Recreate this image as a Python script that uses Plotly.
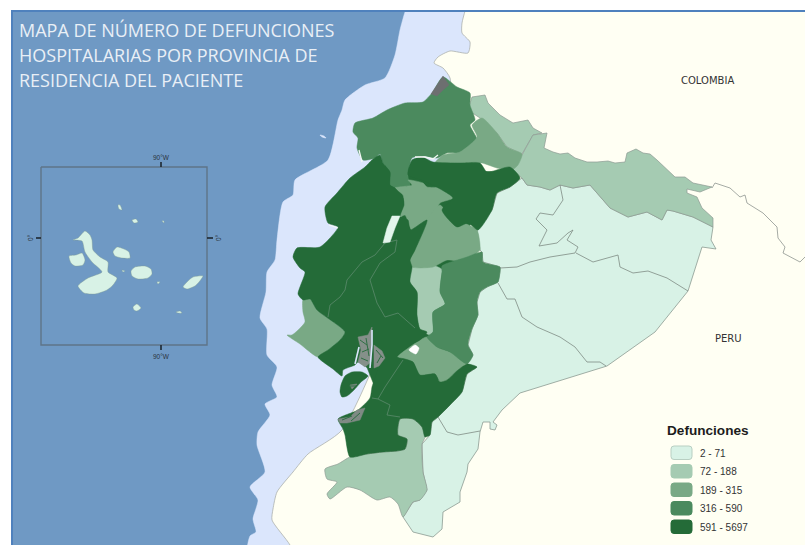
import plotly.graph_objects as go

# ---- legend classes -------------------------------------------------
CLASS_LABELS = ["2 - 71", "72 - 188", "189 - 315", "316 - 590", "591 - 5697"]
CLASS_COLORS = ["#d8f2e6", "#a5cbb2", "#79a985", "#4b8a5e", "#246b38"]
C_LOW, C_MID_LOW, C_MID, C_MID_HIGH, C_HIGH = CLASS_COLORS

TITLE_LINES = ["MAPA DE NÚMERO DE DEFUNCIONES",
               "HOSPITALARIAS POR PROVINCIA DE",
               "RESIDENCIA DEL PACIENTE"]

OCEAN = "#6f99c4"
SHELF = "#dbe6fc"
LAND = "#fffff3"

# ---- map outlines ---------------------------------------------------
OCEAN_AREA = [(0, 0), (805, 0), (805, 545), (0, 545)]
SHELF_AREA = [(410, 0), (405, 12), (400, 30), (395, 55), (385, 78), (365, 85), (345, 100), (342, 110), (338, 120),
              (328, 160), (295, 180), (293, 195), (283, 202), (277, 240), (275, 260), (267, 272), (266, 292),
              (260, 318), (267, 329), (267, 355), (277, 367), (272, 385), (277, 397), (265, 404), (270, 415),
              (258, 432), (257, 445), (265, 472), (250, 487), (258, 500), (253, 519), (256, 532), (250, 536),
              (248, 560), (480, 560), (480, 0)]
NEIGHBOURS = [(468, 0), (830, 0), (830, 570), (300, 570), (290, 545), (272, 520), (273, 509), (277, 492), (293, 472),
              (308, 454), (342, 430), (400, 300), (450, 120), (450, 78), (443, 68), (434, 63), (438, 57),
              (450, 51), (468, 53), (470, 42), (462, 33), (462, 23), (465, 11)]
PERU_COLOMBIA = [(712, 188), (715, 183), (730, 188), (740, 197), (745, 195), (747, 203), (763, 213), (777, 227),
                 (778, 238), (785, 247), (783, 253), (800, 262), (805, 257)]

NORTH_COAST = [(443, 77), (432, 93), (423, 102), (405, 103), (387, 110), (373, 118), (355, 123), (353, 132),
               (358, 138), (357, 148), (363, 160), (375, 158), (380, 154), (383, 163), (390, 172), (390, 185),
               (395, 188), (410, 185), (408, 177), (412, 158), (423, 156), (437, 158), (447, 153), (460, 153),
               (477, 140), (470, 125), (475, 120), (470, 105), (470, 93), (457, 87)]
NORTH_STRIP = [(472, 97), (485, 95), (488, 103), (500, 115), (513, 123), (528, 120), (533, 128), (542, 133),
               (533, 135), (522, 154), (507, 147), (497, 133), (483, 120), (468, 110)]
NORTH_EAST = [(533, 135), (547, 133), (544, 148), (553, 152), (560, 154), (568, 153), (575, 158), (587, 162),
              (597, 162), (608, 161), (615, 163), (625, 162), (627, 153), (636, 149), (643, 153), (650, 154),
              (657, 160), (667, 170), (675, 177), (685, 177), (693, 183), (712, 187), (700, 192), (687, 189),
              (687, 193), (697, 197), (702, 208), (713, 218), (713, 227), (693, 217), (673, 211), (667, 210),
              (662, 220), (647, 212), (628, 217), (610, 208), (590, 185), (573, 188), (560, 185), (550, 190),
              (540, 187), (527, 185), (522, 178), (512, 170), (522, 155)]
NORTH_HIGHLAND = [(435, 163), (443, 155), (460, 152), (477, 137), (472, 125), (482, 118), (497, 133), (507, 147),
                  (522, 154), (518, 165), (512, 170), (497, 168), (482, 163), (460, 163)]
NORTH_DARK = [(408, 175), (412, 160), (422, 157), (433, 162), (460, 163), (480, 163), (487, 172), (510, 167),
              (520, 178), (510, 187), (497, 193), (492, 210), (478, 230), (468, 223), (457, 227), (442, 210),
              (453, 198), (442, 190), (422, 180)]
CENTRE_A = [(395, 188), (412, 185), (408, 180), (423, 183), (427, 187), (450, 188), (453, 198), (440, 203),
            (433, 217), (413, 232), (405, 215), (400, 217), (404, 203), (403, 195)]
CENTRE_B = [(440, 205), (455, 225), (463, 223), (477, 230), (480, 250), (477, 253), (468, 262), (447, 260),
            (433, 267), (412, 267), (410, 260), (415, 250), (427, 220)]
CENTRE_STRIP = [(412, 267), (427, 263), (443, 270), (442, 272), (440, 292), (445, 304), (433, 312), (433, 332),
                (430, 335), (420, 329), (417, 315), (417, 292), (410, 282)]
CENTRE_EAST = [(442, 266), (467, 257), (482, 252), (483, 262), (500, 267), (500, 272), (498, 282), (487, 287),
               (480, 292), (477, 302), (478, 315), (472, 329), (468, 345), (473, 355), (467, 364), (450, 352),
               (437, 347), (427, 337), (433, 332), (433, 312), (445, 304), (440, 292), (442, 272)]
SOUTH_HIGHLAND = [(397, 357), (407, 349), (420, 340), (427, 337), (437, 347), (450, 352), (467, 362), (458, 370),
                  (447, 380), (440, 382), (435, 374), (420, 375), (413, 362), (403, 359)]
INTERIOR = [(385, 165), (435, 170), (505, 172), (470, 225), (462, 345), (440, 378), (400, 412), (378, 395),
            (340, 300), (340, 240)]
WEST_DARK = [(380, 155), (383, 163), (390, 172), (390, 185), (395, 188), (403, 198), (404, 205), (400, 217),
             (408, 220), (410, 230), (427, 220), (415, 250), (410, 260), (412, 267), (410, 282), (417, 292),
             (417, 315), (420, 329), (427, 332), (420, 340), (410, 345), (397, 357), (405, 359), (413, 362),
             (420, 375), (435, 374), (440, 382), (447, 380), (458, 370), (467, 364), (477, 367), (467, 374),
             (462, 392), (450, 405), (438, 417), (432, 422), (430, 435), (425, 437), (422, 427), (413, 419),
             (400, 419), (398, 435), (407, 439), (405, 449), (397, 451), (383, 452), (367, 454), (350, 457),
             (345, 435), (343, 429), (338, 419), (358, 410), (370, 398), (372, 387), (377, 370), (368, 368),
             (358, 362), (355, 365), (343, 370), (342, 376), (333, 369), (318, 357), (328, 350), (340, 340),
             (345, 332), (317, 310), (310, 299), (303, 300), (298, 294), (305, 272), (300, 268), (293, 257),
             (297, 248), (320, 247), (338, 227), (328, 223), (325, 207), (337, 193), (350, 178), (365, 167),
             (372, 160)]
SOUTH_WEST_COAST = [(310, 299), (317, 310), (345, 332), (340, 340), (328, 350), (318, 357), (300, 344), (287, 335),
                    (292, 335), (305, 322), (303, 312), (303, 300)]
PUNA = [(341, 385), (345, 376), (352, 372), (362, 372), (368, 376), (361, 382), (354, 390), (347, 396), (342, 397),
        (340, 392)]
SOUTH_LIGHT = [(400, 419), (413, 419), (422, 427), (425, 437), (422, 444), (423, 472), (427, 490), (420, 500),
               (413, 502), (403, 517), (398, 504), (390, 497), (377, 500), (360, 490), (347, 487), (330, 499),
               (327, 494), (337, 482), (327, 479), (325, 469), (338, 464), (350, 457), (367, 454), (383, 452),
               (397, 451), (405, 449), (407, 439), (398, 435)]
AMAZON = [(522, 178), (527, 185), (540, 187), (550, 190), (560, 185), (573, 188), (590, 185), (610, 208), (628, 217),
          (647, 212), (662, 220), (667, 210), (673, 211), (693, 217), (713, 227), (711, 240), (716, 249), (702, 247),
          (688, 291), (655, 332), (607, 366), (520, 393), (502, 410), (493, 422), (497, 425), (495, 430), (490, 429),
          (490, 422), (483, 422), (480, 432), (478, 449), (468, 464), (467, 472), (460, 492), (460, 502), (443, 512),
          (442, 529), (433, 537), (413, 532), (403, 517), (413, 502), (420, 500), (427, 490), (423, 472), (422, 444),
          (430, 435), (432, 422), (438, 417), (450, 405), (462, 392), (467, 374), (477, 367), (467, 364), (473, 355),
          (468, 345), (472, 329), (478, 315), (477, 302), (480, 292), (487, 287), (498, 282), (500, 272), (500, 267),
          (483, 262), (482, 252), (480, 250), (477, 230), (478, 230), (492, 210), (497, 193), (510, 187)]

AMAZON_LINE_1 = [(560, 185), (563, 200), (553, 215), (540, 213), (536, 219), (547, 230), (539, 246), (557, 243),
                 (568, 233), (573, 230), (567, 240), (578, 247), (575, 253), (550, 257), (530, 262), (517, 267),
                 (500, 268)]
AMAZON_LINE_2 = [(576, 253), (593, 262), (618, 255), (620, 267), (633, 273), (648, 271), (667, 278), (688, 291)]
AMAZON_LINE_3 = [(498, 283), (507, 299), (515, 299), (522, 317), (537, 327), (560, 337), (575, 347), (587, 362),
                 (600, 362), (606, 366)]
AMAZON_LINE_4 = [(438, 417), (447, 432), (458, 435), (480, 431)]
DARK_LINE_1 = [(397, 240), (395, 252), (380, 263), (370, 280), (377, 303), (385, 317), (398, 313), (415, 328)]
DARK_LINE_2 = [(397, 240), (385, 243), (375, 255), (362, 262), (347, 280), (345, 290), (340, 297), (330, 305), (328, 317)]
DARK_LINE_3 = [(403, 360), (393, 375), (385, 387), (378, 399), (390, 405), (387, 415), (400, 417)]
DARK_LINE_4 = [(372, 398), (378, 399)]

LAKE = [(392, 216), (400, 216), (395, 228), (390, 242), (383, 243), (387, 228)]
WHITE_SPOT = [(409, 350), (415, 345), (419, 348), (416, 354)]
WHITE_INLET_1 = [(415, 157), (425, 157), (433, 159), (438, 155)]
WHITE_INLET_2 = [(329, 225), (338, 228)]
WHITE_INLET_3 = [(359, 150), (362, 162)]

MANGROVE_N = [(443, 76), (449, 85), (443, 90), (437, 96), (431, 94), (436, 87)]
MANGROVE_W = [(358, 337), (368, 335), (372, 327), (371, 362), (365, 367), (358, 362), (361, 350)]
MANGROVE_E = [(374, 345), (382, 351), (385, 358), (379, 366), (374, 368)]
MANGROVE_S = [(338, 419), (350, 417), (357, 410), (365, 408), (360, 420), (347, 423), (340, 423)]
MANGROVE_PUNA = [(350, 385), (357, 384), (352, 389)]
CHANNELS = [[(372, 330), (372, 345), (370, 368)], [(359, 347), (355, 364)]]
MANGROVE_SPECKS = [[(360, 340), (367, 345)], [(362, 352), (369, 349)], [(361, 358), (368, 361)],
                   [(366, 338), (369, 356)], [(376, 350), (383, 358)], [(377, 363), (381, 356)],
                   [(342, 420), (352, 416)], [(351, 421), (360, 413)], [(349, 386), (356, 386)]]

ISLANDS = [
    [(73, 240), (78, 238), (85, 231), (90, 235), (92, 240), (93, 250), (100, 257), (108, 262), (108, 272), (117, 278),
     (113, 285), (107, 290), (95, 294), (84, 293), (78, 286), (88, 278), (102, 272), (92, 262), (85, 252), (82, 241)],
    [(69, 256), (76, 255), (82, 253), (85, 260), (83, 265), (75, 266), (71, 263)],
    [(117, 247), (124, 249), (129, 252), (130, 258), (122, 258), (115, 256), (113, 252)],
    [(135, 267), (145, 266), (151, 269), (152, 274), (148, 278), (138, 279), (132, 276), (131, 271)],
    [(183, 287), (188, 281), (193, 277), (203, 276), (199, 282), (195, 286), (187, 289)],
    [(133, 307), (137, 304), (141, 308), (137, 311), (134, 310)],
    [(176, 312), (180, 311), (182, 313), (178, 313)],
    [(118, 205), (120, 205), (122, 210), (119, 209)],
    [(132, 220), (136, 219), (138, 222), (134, 223)],
    [(162, 221), (164, 221), (164, 223)],
    [(122, 270), (125, 271), (123, 272)],
    [(157, 282), (160, 282), (158, 284)],
]
ISLET = [(320, 135), (324, 136), (326, 138), (322, 137)]

INSET_FRAME = [(41, 167), (207, 167), (207, 345), (41, 345), (41, 167)]
INSET_TICKS = [[(161, 162), (161, 167)], [(161, 345), (161, 350)], [(36, 238), (41, 238)], [(207, 238), (213, 238)]]

fig = go.Figure()


def area(points, color, name, line_color=None, line_width=0, smooth=True):
    fig.add_trace(go.Scatter(
        x=[p[0] for p in points] + [points[0][0]], y=[p[1] for p in points] + [points[0][1]],
        name=name, mode="lines", fill="toself", fillcolor=color,
        line=dict(color=line_color or color, width=line_width or 0.5,
                  shape="spline" if smooth else "linear", smoothing=0.6),
        hoverinfo="name"))


def path(points, color, width, name="línea", smooth=False):
    fig.add_trace(go.Scatter(
        x=[p[0] for p in points], y=[p[1] for p in points], name=name, mode="lines",
        line=dict(color=color, width=width, shape="spline" if smooth else "linear", smoothing=0.5),
        hoverinfo="skip"))


EDGE = "#8c9a92"
area(OCEAN_AREA, OCEAN, "Océano", smooth=False)
area(SHELF_AREA, SHELF, "Plataforma")
area(NEIGHBOURS, LAND, "Países vecinos", "#a3a8a3", 0.7)
path(PERU_COLOMBIA, "#8f9690", 0.8, "Frontera")

area(AMAZON, C_LOW, "Amazonía", EDGE, 0.8, smooth=False)
area(INTERIOR, C_HIGH, "Interior", smooth=False)
area(NORTH_STRIP, C_MID_LOW, "Norte", EDGE, 0.7, smooth=False)
area(NORTH_EAST, C_MID_LOW, "Nororiente", EDGE, 0.7, smooth=False)
area(SOUTH_LIGHT, C_MID_LOW, "Sur", EDGE, 0.7)
area(CENTRE_STRIP, C_MID_LOW, "Centro")
area(NORTH_COAST, C_MID_HIGH, "Costa norte")
area(NORTH_HIGHLAND, C_MID, "Sierra norte")
area(CENTRE_A, C_MID, "Centro A")
area(CENTRE_B, C_MID, "Centro B")
area(SOUTH_HIGHLAND, C_MID, "Sierra sur")
area(SOUTH_WEST_COAST, C_MID, "Costa suroeste")
area(CENTRE_EAST, C_MID_HIGH, "Centro este")
area(WEST_DARK, C_HIGH, "Costa")
area(NORTH_DARK, C_HIGH, "Norte oscuro")
area(PUNA, C_HIGH, "Puná")

for line in (AMAZON_LINE_1, AMAZON_LINE_2, AMAZON_LINE_3, AMAZON_LINE_4):
    path(line, "#7f8c84", 0.8)
for line in (DARK_LINE_1, DARK_LINE_2, DARK_LINE_3, DARK_LINE_4):
    path(line, "#5c8a6c", 0.8)

area(MANGROVE_N, "#6d6f70", "Manglar norte", smooth=False)
area(MANGROVE_W, "#85908a", "Manglar golfo oeste", smooth=False)
area(MANGROVE_E, "#85908a", "Manglar golfo este", smooth=False)
area(MANGROVE_S, "#7f8a84", "Manglar sur", smooth=False)
area(MANGROVE_PUNA, "#7f8a84", "Manglar Puná", smooth=False)
for speck in MANGROVE_SPECKS:
    path(speck, "#2f6f44", 1, "Manglar")
for channel in CHANNELS:
    path(channel, SHELF, 1.6)
area(LAKE, "#e3f5ec", "Embalse", smooth=False)
area(WHITE_SPOT, "#ffffff", "Sin dato")
for inlet in (WHITE_INLET_1, WHITE_INLET_2, WHITE_INLET_3):
    path(inlet, "#f3f8f4", 1.3)
area(ISLET, SHELF, "Islote")

for island in ISLANDS:
    area(island, C_LOW, "Galápagos", "#7f9a90", 0.4)
path(INSET_FRAME, "#5f7488", 1.4, "Recuadro")
for tick in INSET_TICKS:
    path(tick, "#1d2731", 1.6, "Marca")

SHAPES = [
    dict(type="rect", x0=0, x1=805, y0=0, y1=10, fillcolor="#ffffff", line=dict(width=0), layer="above"),
    dict(type="rect", x0=0, x1=11, y0=0, y1=545, fillcolor="#ffffff", line=dict(width=0), layer="above"),
    dict(type="line", x0=11, x1=805, y0=11, y1=11, line=dict(color="#4f81bd", width=2), layer="above"),
    dict(type="line", x0=12, x1=12, y0=10, y1=545, line=dict(color="#4f81bd", width=2), layer="above"),
]
SWATCH_TOPS = [446, 464.5, 483, 501.5, 520]
for top, color, i in zip(SWATCH_TOPS, CLASS_COLORS, range(5)):
    x0, x1, y0, y1, r = 671, 692, top, top + 13.5, 3
    SHAPES.append(dict(
        type="path", layer="above",
        path=f"M{x0+r},{y0} L{x1-r},{y0} Q{x1},{y0} {x1},{y0+r} L{x1},{y1-r} Q{x1},{y1} {x1-r},{y1} "
             f"L{x0+r},{y1} Q{x0},{y1} {x0},{y1-r} L{x0},{y0+r} Q{x0},{y0} {x0+r},{y0} Z",
        fillcolor=color, line=dict(color="#b8cfc2" if i == 0 else color, width=1)))

ANNOT = []


def text(x, y, s, size, color, family="Liberation Sans", anchor="left", angle=0):
    ANNOT.append(dict(x=x, y=y, text=s, showarrow=False, xanchor=anchor, yanchor="middle", textangle=angle,
                      font=dict(family=family, size=size, color=color)))


for y, line in zip((30, 55, 80), TITLE_LINES):
    text(17, y, line, 18, "#e9eff6", "Open Sans")
text(707, 80, "COLOMBIA", 10, "#333333", "DejaVu Sans", "center")
text(728, 338, "PERU", 10, "#333333", "DejaVu Sans", "center")
text(664.5, 430, "<b>Defunciones</b>", 13.6, "#1c1c1c")
for top, label in zip(SWATCH_TOPS, CLASS_LABELS):
    text(697.5, top + 7, label, 10, "#333333")
for x, y in ((161, 157), (161, 356)):
    text(x, y, "90°W", 6.5, "#2a3440", anchor="center")
text(30, 238, "0°", 6.5, "#2a3440", anchor="center", angle=-90)
text(218, 238, "0°", 6.5, "#2a3440", anchor="center", angle=-90)

fig.update_layout(
    width=805, height=545, margin=dict(l=0, r=0, t=0, b=0), showlegend=False,
    paper_bgcolor="#ffffff", plot_bgcolor="#ffffff", shapes=SHAPES, annotations=ANNOT,
    xaxis=dict(range=[0, 805], visible=False, fixedrange=True),
    yaxis=dict(range=[545, 0], visible=False, fixedrange=True),
)
fig.write_html("out.html", config={"displayModeBar": False},
               post_script="document.body.style.margin='0';document.body.style.overflow='hidden';")
